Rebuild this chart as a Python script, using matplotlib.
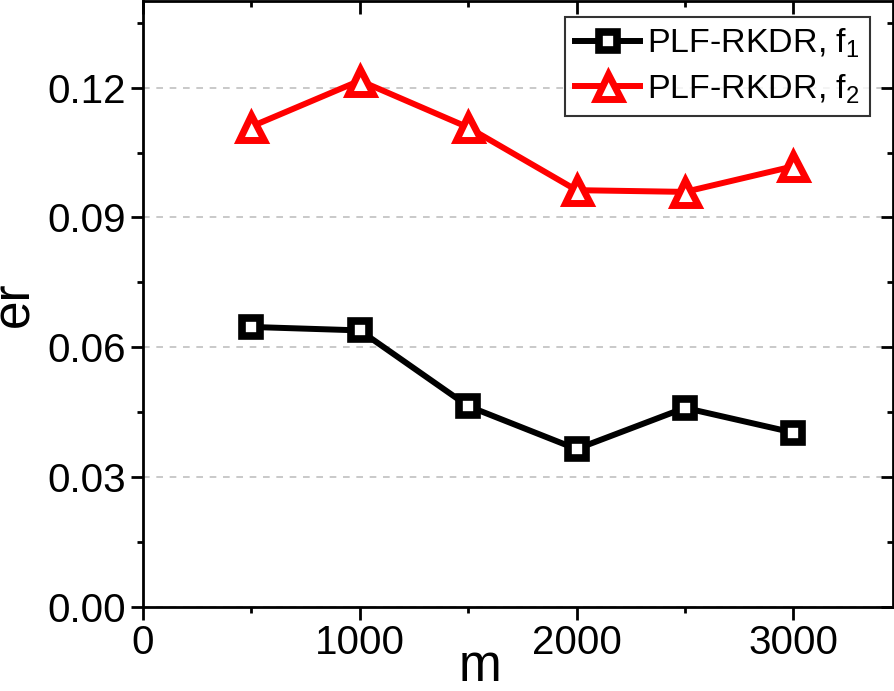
import matplotlib
matplotlib.use('Agg')
import matplotlib.pyplot as plt
from matplotlib.ticker import MultipleLocator

plt.rcParams['font.family'] = ['Liberation Sans', 'DejaVu Sans']
plt.rcParams['mathtext.default'] = 'regular'

# Werte
m_werte = [500, 1000, 1500, 2000, 2500, 3000]
er_f1 = [0.0647, 0.0639, 0.0464, 0.0365, 0.0460, 0.0403]
er_f2 = [0.1110, 0.1216, 0.1108, 0.0963, 0.0959, 0.1018]
label_f1 = 'PLF-RKDR, f$_1$'
label_f2 = 'PLF-RKDR, f$_2$'

fig = plt.figure(figsize=(8.95, 6.91), dpi=100)
ax = fig.add_axes([143 / 895, 84 / 691, 750 / 895, 606 / 691])

ax.plot(m_werte, er_f1, color='black', linewidth=4.3, marker='s', markersize=13,
        markerfacecolor='white', markeredgecolor='black', markeredgewidth=5.5, label=label_f1, zorder=3)
ax.plot(m_werte, er_f2, color='red', linewidth=4.3, marker='^', markersize=18,
        markerfacecolor='white', markeredgecolor='red', markeredgewidth=5, label=label_f2, zorder=3)

ax.set_xlim(0, 3460)
ax.set_ylim(0, 0.14)
ax.set_xticks([0, 1000, 2000, 3000])
ax.set_yticks([0.0, 0.03, 0.06, 0.09, 0.12])
ax.set_yticklabels(['0.00', '0.03', '0.06', '0.09', '0.12'])
ax.xaxis.set_minor_locator(MultipleLocator(500))
ax.yaxis.set_minor_locator(MultipleLocator(0.015))

ax.tick_params(axis='both', which='major', labelsize=29, width=2, length=9, pad=3,
               direction='out')
ax.tick_params(axis='both', which='minor', width=2, length=4.5, direction='out')
ax.tick_params(top=True, right=True, which='both')

# Origin-Stil: oben/rechts Ticks nach innen
for t in ax.xaxis.get_major_ticks() + ax.xaxis.get_minor_ticks():
    t.tick2line.set_marker(3)
for t in ax.yaxis.get_major_ticks() + ax.yaxis.get_minor_ticks():
    t.tick2line.set_marker(0)

for sp in ax.spines.values():
    sp.set_linewidth(2)

ax.yaxis.grid(True, linestyle=(0, (4, 4)), color='#c0c0c0', linewidth=1.2)
ax.set_axisbelow(True)

ax.set_xlabel('m', fontsize=37)
ax.set_ylabel('er', fontsize=37)
ax.xaxis.set_label_coords(0.449, -0.06)
ax.yaxis.set_label_coords(-0.138, 0.5)

leg = ax.legend(loc='upper right', bbox_to_anchor=(0.969, 0.974), fontsize=24.5,
                frameon=True, fancybox=False, borderaxespad=0, handlelength=1.9,
                handletextpad=0.2, borderpad=0.3, labelspacing=0.35)
leg.get_frame().set_edgecolor('black')
leg.get_frame().set_linewidth(1.5)

plt.savefig('out.png', dpi=100)
